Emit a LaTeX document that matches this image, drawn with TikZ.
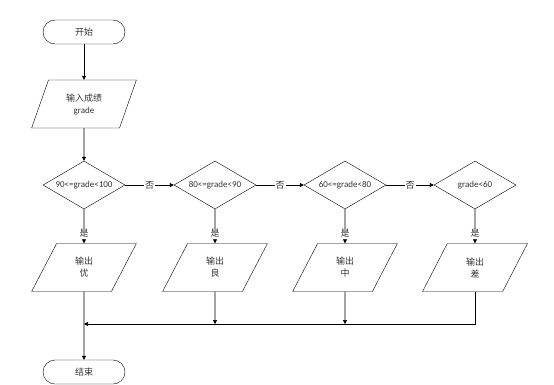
\documentclass[tikz,border=0pt]{standalone}
\usepackage{fontspec}
\setmainfont{Carlito}
\newfontfamily\cjk{Noto Sans CJK SC}
\usetikzlibrary{shapes.geometric,arrows.meta}
\begin{document}
\begin{tikzpicture}[x=1pt,y=-1pt,
 every node/.style={font=\fontsize{9}{12}\selectfont, text=black!80},
 term/.style={draw, rounded corners=12pt, minimum width=82pt, minimum height=24pt, inner sep=0pt},
 io/.style={draw, trapezium, trapezium left angle=68, trapezium right angle=112, trapezium stretches=true, minimum width=105pt, minimum height=48pt, inner sep=0pt, align=center},
 dec/.style={draw, diamond, minimum width=82pt, minimum height=48pt, inner sep=0pt, aspect=1.7},
 arr/.style={draw, -{Triangle[length=4pt,width=4pt]}, line width=0.6pt},
 lbl/.style={fill=white, inner sep=1pt}]
\useasboundingbox (0,0) rectangle (554,384);
\node[term] (start) at (84,32) {\cjk 开始};
\node[io] (in) at (84,104) {{\cjk 输入成绩}\\grade};
\node[dec] (d1) at (84,185) {90<=grade<100};
\node[dec] (d2) at (215,185) {80<=grade<90};
\node[dec] (d3) at (345,185) {60<=grade<80};
\node[dec] (d4) at (475,185) {grade<60};
\node[io] (o1) at (84,267.5) {{\cjk 输出}\\{\cjk 优}};
\node[io] (o2) at (215,267.5) {{\cjk 输出}\\{\cjk 良}};
\node[io] (o3) at (345,267.5) {{\cjk 输出}\\{\cjk 中}};
\node[io] (o4) at (475,267.5) {{\cjk 输出}\\{\cjk 差}};
\node[term] (end) at (84,372) {\cjk 结束};
\coordinate (m1) at (84,324);
\draw[arr] (start) -- (in);
\draw[arr] (in) -- (d1);
\draw[arr] (d1) -- node[lbl]{\cjk 否} (d2);
\draw[arr] (d2) -- node[lbl]{\cjk 否} (d3);
\draw[arr] (d3) -- node[lbl]{\cjk 否} (d4);
\draw[arr] (d1) -- node[lbl,pos=0.72]{\cjk 是} (o1);
\draw[arr] (d2) -- node[lbl,pos=0.72]{\cjk 是} (o2);
\draw[arr] (d3) -- node[lbl,pos=0.72]{\cjk 是} (o3);
\draw[arr] (d4) -- node[lbl,pos=0.72]{\cjk 是} (o4);
\draw[arr] (o1) -- (end);
\draw[arr] (o2) -- (o2 |- m1);
\draw[arr] (o3) -- (o3 |- m1);
\draw[arr] (o4) |- (m1);
\end{tikzpicture}
\end{document}
